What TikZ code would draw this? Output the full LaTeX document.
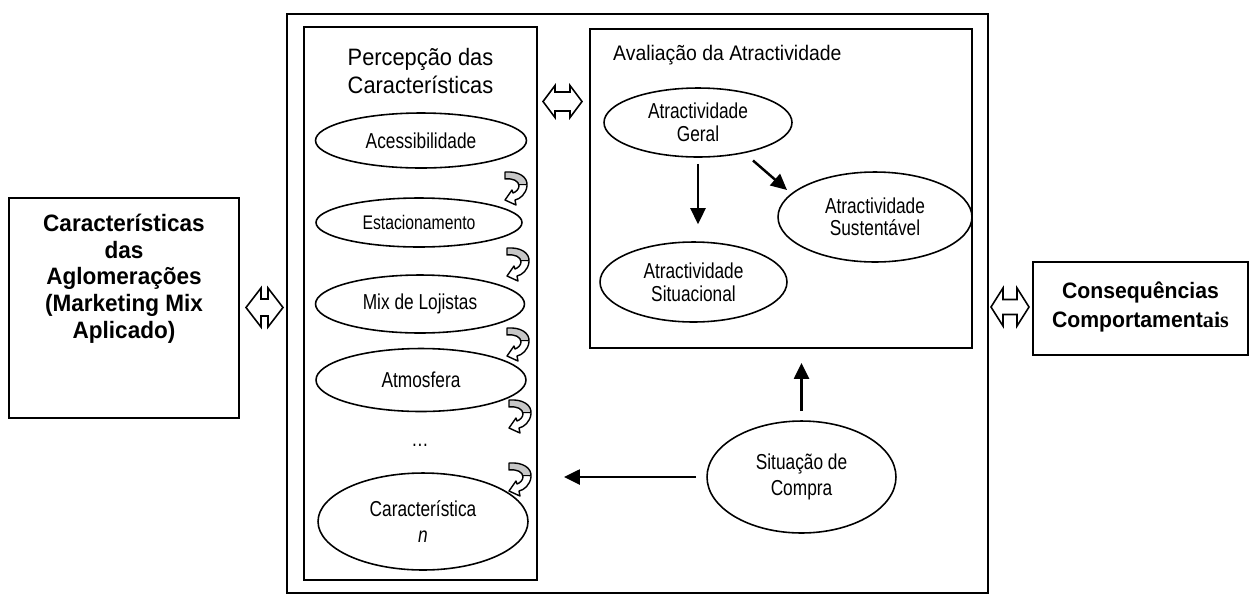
\documentclass[tikz,border=0pt]{standalone}
\usepackage{fontspec}
\setmainfont{Liberation Sans}[FakeStretch=0.92]
\newfontfamily\narrowf{Liberation Sans}[FakeStretch=0.8]
\newfontfamily\boldf{Liberation Sans}[FakeStretch=0.95]
\newfontfamily\serifbold{Liberation Serif}
\usetikzlibrary{shapes.geometric,arrows.meta,calc}
\newcommand\dblarr[6]{%
  \path[blk] ({#1-#3},#2) -- ({#1-#3+#4},{#2-#5}) -- ({#1-#3+#4},{#2-#6}) -- ({#1+#3-#4},{#2-#6})
    -- ({#1+#3-#4},{#2-#5}) -- ({#1+#3},#2) -- ({#1+#3-#4},{#2+#5}) -- ({#1+#3-#4},{#2+#6})
    -- ({#1-#3+#4},{#2+#6}) -- ({#1-#3+#4},{#2+#5}) -- cycle;}
\tikzset{
  curvarr/.pic={
    \fill[white] (0,0) .. controls (14,-1) and (23,5) .. (22,14) .. controls (21,22) and (15,27) .. (10,28)
      -- (11,33) -- (0,28) -- (7,18) -- (8,21) .. controls (11,20) and (14,17) .. (14,14)
      .. controls (14,9) and (8,6) .. (0,7) -- cycle;
    \begin{scope}
      \clip (0,0) .. controls (14,-1) and (23,5) .. (22,14) .. controls (21,22) and (15,27) .. (10,28)
        -- (11,33) -- (0,28) -- (7,18) -- (8,21) .. controls (11,20) and (14,17) .. (14,14)
        .. controls (14,9) and (8,6) .. (0,7) -- cycle;
      \fill[black!22] (-3,-3) -- (30,-3) -- (30,13) -- (-3,12) -- cycle;
      \draw[line width=0.6pt] (-3,12) -- (30,13);
    \end{scope}
    \draw[line width=0.8pt,line join=round] (0,0) .. controls (14,-1) and (23,5) .. (22,14) .. controls (21,22) and (15,27) .. (10,28)
      -- (11,33) -- (0,28) -- (7,18) -- (8,21) .. controls (11,20) and (14,17) .. (14,14)
      .. controls (14,9) and (8,6) .. (0,7) -- cycle;
  }
}
\begin{document}
\begin{tikzpicture}[x=0.02cm,y=-0.02cm,
  box/.style={draw,line width=1.1pt,inner sep=0},
  ell/.style={draw,ellipse,line width=0.9pt,inner sep=0,align=center,font=\narrowf\fontsize{12.3}{12.8}\selectfont},
  arr/.style={line width=1.4pt,-{Triangle[length=0.32cm,width=0.3cm]}},
  blk/.style={draw,fill=white,line width=0.9pt,line join=miter},
]
\useasboundingbox (0,0) rectangle (1254,596);

% boxes
\node[box,minimum width=4.6cm,minimum height=4.4cm] (caract) at (124,308) {};
\node[font=\boldf\bfseries\fontsize{13.5}{15.2}\selectfont,align=center] (caracttxt) at (124,278.5)
  {Características\\das\\Aglomerações\\(Marketing Mix\\Aplicado)};
\node[box,minimum width=14.02cm,minimum height=11.58cm] (outer) at (637.5,303.5) {};
\node[box,minimum width=4.66cm,minimum height=11.06cm] (perc) at (420.5,303.5) {};
\node[box,minimum width=7.64cm,minimum height=6.38cm] (aval) at (781,188.5) {};
\node[box,minimum width=4.3cm,minimum height=1.86cm] (conseq) at (1140.5,308.5) {};
\node[font=\boldf\bfseries\fontsize{12.7}{17}\selectfont,align=center] (conseqtxt) at (1140.5,307)
  {Consequências\\Comportament{\serifbold\bfseries ais}};

% titles
\node[font=\fontsize{13.5}{15.9}\selectfont,align=center] (perctitle) at (420.5,71)
  {Percepção das\\Características};
\node[anchor=west,font=\fontsize{12}{13}\selectfont] (avaltitle) at (607,55)
  {Avaliação da Atractividade};

% perception ellipses
\node[ell,minimum width=4.22cm,minimum height=1.1cm] (acess) at (421,140.5) {Acessibilidade};
\node[ell,minimum width=4.12cm,minimum height=0.98cm,font=\narrowf\fontsize{11.2}{12}\selectfont] (estac) at (419,222.5) {Estacionamento};
\node[ell,minimum width=4.18cm,minimum height=1.16cm] (mix) at (420,304) {Mix de Lojistas};
\node[ell,minimum width=4.2cm,minimum height=1.26cm] (atmos) at (421,380) {Atmosfera};
\node[font=\narrowf\fontsize{12.3}{13}\selectfont] (dots) at (420,445) {…};
\node[ell,minimum width=4.2cm,minimum height=1.94cm,font=\narrowf\fontsize{12.3}{15.3}\selectfont] (caracn) at (423,521.5)
  {Característica\\\textit{n}};

% attractiveness ellipses
\node[ell,minimum width=3.76cm,minimum height=1.38cm] (geral) at (698,122.5) {Atractividade\\Geral};
\node[ell,minimum width=3.88cm,minimum height=1.8cm] (sust) at (875,217) {Atractividade\\Sustentável};
\node[ell,minimum width=3.74cm,minimum height=1.6cm,font=\narrowf\fontsize{12.3}{13.2}\selectfont] (situ) at (693.5,282) {Atractividade\\Situacional};
\node[ell,minimum width=3.78cm,minimum height=2.24cm,font=\narrowf\fontsize{12.3}{14.7}\selectfont] (sitc) at (801.5,477)
  {Situação de\\Compra};

% curved arrows
\pic at (505,172) {curvarr};
\pic at (507,248) {curvarr};
\pic at (507,328) {curvarr};
\pic at (509,400) {curvarr};
\pic at (509,463) {curvarr};

% block double arrows
\dblarr{264.5}{307.5}{18.5}{15}{19.5}{8.5}
\dblarr{562.5}{101.5}{19.5}{12}{16}{9.5}
\dblarr{1010}{307}{19}{12}{19}{7.5}

% connectors
\draw[arr] ([yshift=-0.12cm]geral.south) -- ([yshift=0.34cm]geral.south |- situ.north);
\draw[arr] ([xshift=1.1cm,yshift=-0.76cm]geral.center) -- ([xshift=-1.76cm,yshift=0.54cm]sust.center);
\draw[arr] ([yshift=0.18cm]sitc.north) -- ([yshift=-0.28cm]sitc.north |- aval.south);
\draw[arr] ([xshift=-0.2cm]sitc.west) -- ([xshift=0.52cm]sitc.west -| perc.east);
\end{tikzpicture}
\end{document}
